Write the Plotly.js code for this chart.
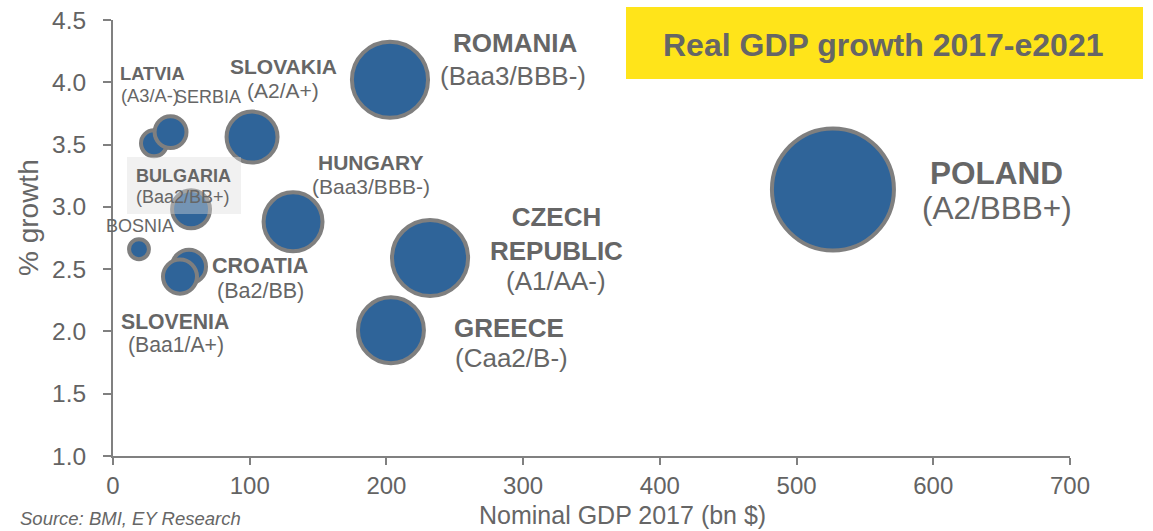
<!DOCTYPE html>
<html>
<head>
<meta charset="utf-8">
<script src="https://cdn.plot.ly/plotly-3.0.1.min.js"></script>
<style>
  html, body { margin: 0; padding: 0; background: #ffffff; }
  #chart { width: 1153px; height: 531px; }
</style>
</head>
<body>
<div id="chart"></div>
<script>
// ---- Data ----
const countries = ['Poland', 'Romania', 'Czech Republic', 'Greece', 'Hungary', 'Slovakia',
                   'Latvia', 'Serbia', 'Bulgaria', 'Bosnia', 'Croatia', 'Slovenia'];
const labelNames = ['POLAND', 'ROMANIA', 'CZECH<br>REPUBLIC', 'GREECE', 'HUNGARY', 'SLOVAKIA',
                    'LATVIA', 'SERBIA', 'BULGARIA', 'BOSNIA', 'CROATIA', 'SLOVENIA'];
const ratings = ['(A2/BBB+)', '(Baa3/BBB-)', '(A1/AA-)', '(Caa2/B-)', '(Baa3/BBB-)', '(A2/A+)',
                 '(A3/A-)', '', '(Baa2/BB+)', '', '(Ba2/BB)', '(Baa1/A+)'];
const nominalGdp2017 = [526.6, 202.6, 231.9, 203.3, 131.7, 101.7, 30.0, 42.1, 57.1, 19.0, 55.6, 49.0];
const realGrowth = [3.14, 4.02, 2.59, 2.01, 2.88, 3.56, 3.51, 3.60, 2.98, 2.66, 2.52, 2.44];
const bubbleSize = [527, 205, 205, 154, 123, 92, 24, 36, 51, 14, 41, 41];
const xTickVals = [0, 100, 200, 300, 400, 500, 600, 700];
const yTickVals = [1.0, 1.5, 2.0, 2.5, 3.0, 3.5, 4.0, 4.5];

// ---- Layout helpers (pixel positions of the plot frame) ----
const L = 113, R = 1070, T = 20, B = 456;
const PX = px => (px - L) / (R - L);
const PY = py => (B - py) / (B - T);
const FONT = '"Liberation Sans", Arial, sans-serif';
const GREY = '#666666';

// label placement: [name x, name y, rating x, rating y, font size, bold]
const labelPos = [
  [996, 173, 997, 208, 31.5, true],
  [515, 43, 513, 76, 26, true],
  [556, 234, 556, 281, 26, true],
  [509, 328, 511, 358, 26, true],
  [370, 162, 371, 186, 21, true],
  [283, 66, 283, 90, 21, true],
  [152, 73, 150, 95, 18.3, true],
  [208, 97, 0, 0, 18, false],
  [183, 176, 183, 197, 18, true],
  [140, 226, 0, 0, 18, false],
  [260, 266, 260, 291, 21.5, true],
  [175, 321, 176, 345, 21.2, true]
];

const annotations = [];
countries.forEach((c, i) => {
  const p = labelPos[i];
  annotations.push({
    xref: 'paper', yref: 'paper', x: PX(p[0]), y: PY(p[1]),
    xanchor: 'center', yanchor: 'middle', showarrow: false,
    text: p[5] ? '<b>' + labelNames[i] + '</b>' : labelNames[i],
    font: { family: FONT, size: p[4], color: GREY }
  });
  if (ratings[i]) {
    annotations.push({
      xref: 'paper', yref: 'paper', x: PX(p[2]), y: PY(p[3]),
      xanchor: 'center', yanchor: 'middle', showarrow: false,
      text: ratings[i],
      font: { family: FONT, size: p[4], color: GREY }
    });
  }
});

// title inside yellow box
annotations.push({
  xref: 'paper', yref: 'paper', x: PX(883), y: PY(45),
  xanchor: 'center', yanchor: 'middle', showarrow: false,
  text: '<b>Real GDP growth 2017-e2021</b>',
  font: { family: FONT, size: 32, color: GREY }
});
// axis titles
annotations.push({
  xref: 'paper', yref: 'paper', x: PX(622), y: PY(515),
  xanchor: 'center', yanchor: 'middle', showarrow: false,
  text: 'Nominal GDP 2017 (bn $)',
  font: { family: FONT, size: 25, color: GREY }
});
annotations.push({
  xref: 'paper', yref: 'paper', x: PX(28), y: PY(218),
  xanchor: 'center', yanchor: 'middle', showarrow: false, textangle: -90,
  text: '% growth',
  font: { family: FONT, size: 28, color: GREY }
});
// source
annotations.push({
  xref: 'paper', yref: 'paper', x: PX(18), y: PY(518),
  xanchor: 'left', yanchor: 'middle', showarrow: false,
  text: '<i>Source: BMI, EY Research</i>',
  font: { family: FONT, size: 18.5, color: GREY }
});

const maxDiam = 122;
const trace = {
  type: 'scatter', mode: 'markers',
  x: nominalGdp2017, y: realGrowth, text: countries,
  marker: {
    size: bubbleSize, sizemode: 'area',
    sizeref: 2 * Math.max(...bubbleSize) / (maxDiam * maxDiam),
    color: '#2f6499', opacity: 1,
    line: { color: '#7f7f7f', width: 4 }
  },
  hoverinfo: 'text', cliponaxis: false
};

const layout = {
  width: 1153, height: 531,
  margin: { l: L, r: 1153 - R, t: T, b: 531 - B, pad: 0 },
  paper_bgcolor: '#ffffff', plot_bgcolor: '#ffffff',
  showlegend: false,
  font: { family: FONT, color: GREY },
  xaxis: {
    range: [0, 700], tickvals: xTickVals, ticktext: xTickVals.map(String),
    showgrid: false, zeroline: false, showline: true,
    linecolor: '#808080', linewidth: 2,
    ticks: 'outside', ticklen: 7, tickwidth: 2, tickcolor: '#808080',
    tickfont: { family: FONT, size: 24, color: '#636363' },
    ticklabelstandoff: 0
  },
  yaxis: {
    range: [1.0, 4.5], tickvals: yTickVals, ticktext: yTickVals.map(v => v.toFixed(1)),
    showgrid: false, zeroline: false, showline: true,
    linecolor: '#808080', linewidth: 2,
    ticks: 'outside', ticklen: 8, tickwidth: 2, tickcolor: '#808080',
    tickfont: { family: FONT, size: 24.5, color: '#636363' },
    ticklabelstandoff: 12
  },
  shapes: [
    { type: 'rect', xref: 'paper', yref: 'paper', layer: 'below',
      x0: PX(626), x1: PX(1143), y0: PY(79), y1: PY(7),
      fillcolor: '#FFE41A', line: { width: 0 } },
    { type: 'rect', xref: 'paper', yref: 'paper', layer: 'above',
      x0: PX(127), x1: PX(241), y0: PY(214), y1: PY(157),
      fillcolor: 'rgba(220,220,220,0.4)', line: { width: 0 } }
  ],
  annotations: annotations,
  hovermode: false
};

Plotly.newPlot('chart', [trace], layout, { displayModeBar: false, staticPlot: true });
</script>
</body>
</html>
